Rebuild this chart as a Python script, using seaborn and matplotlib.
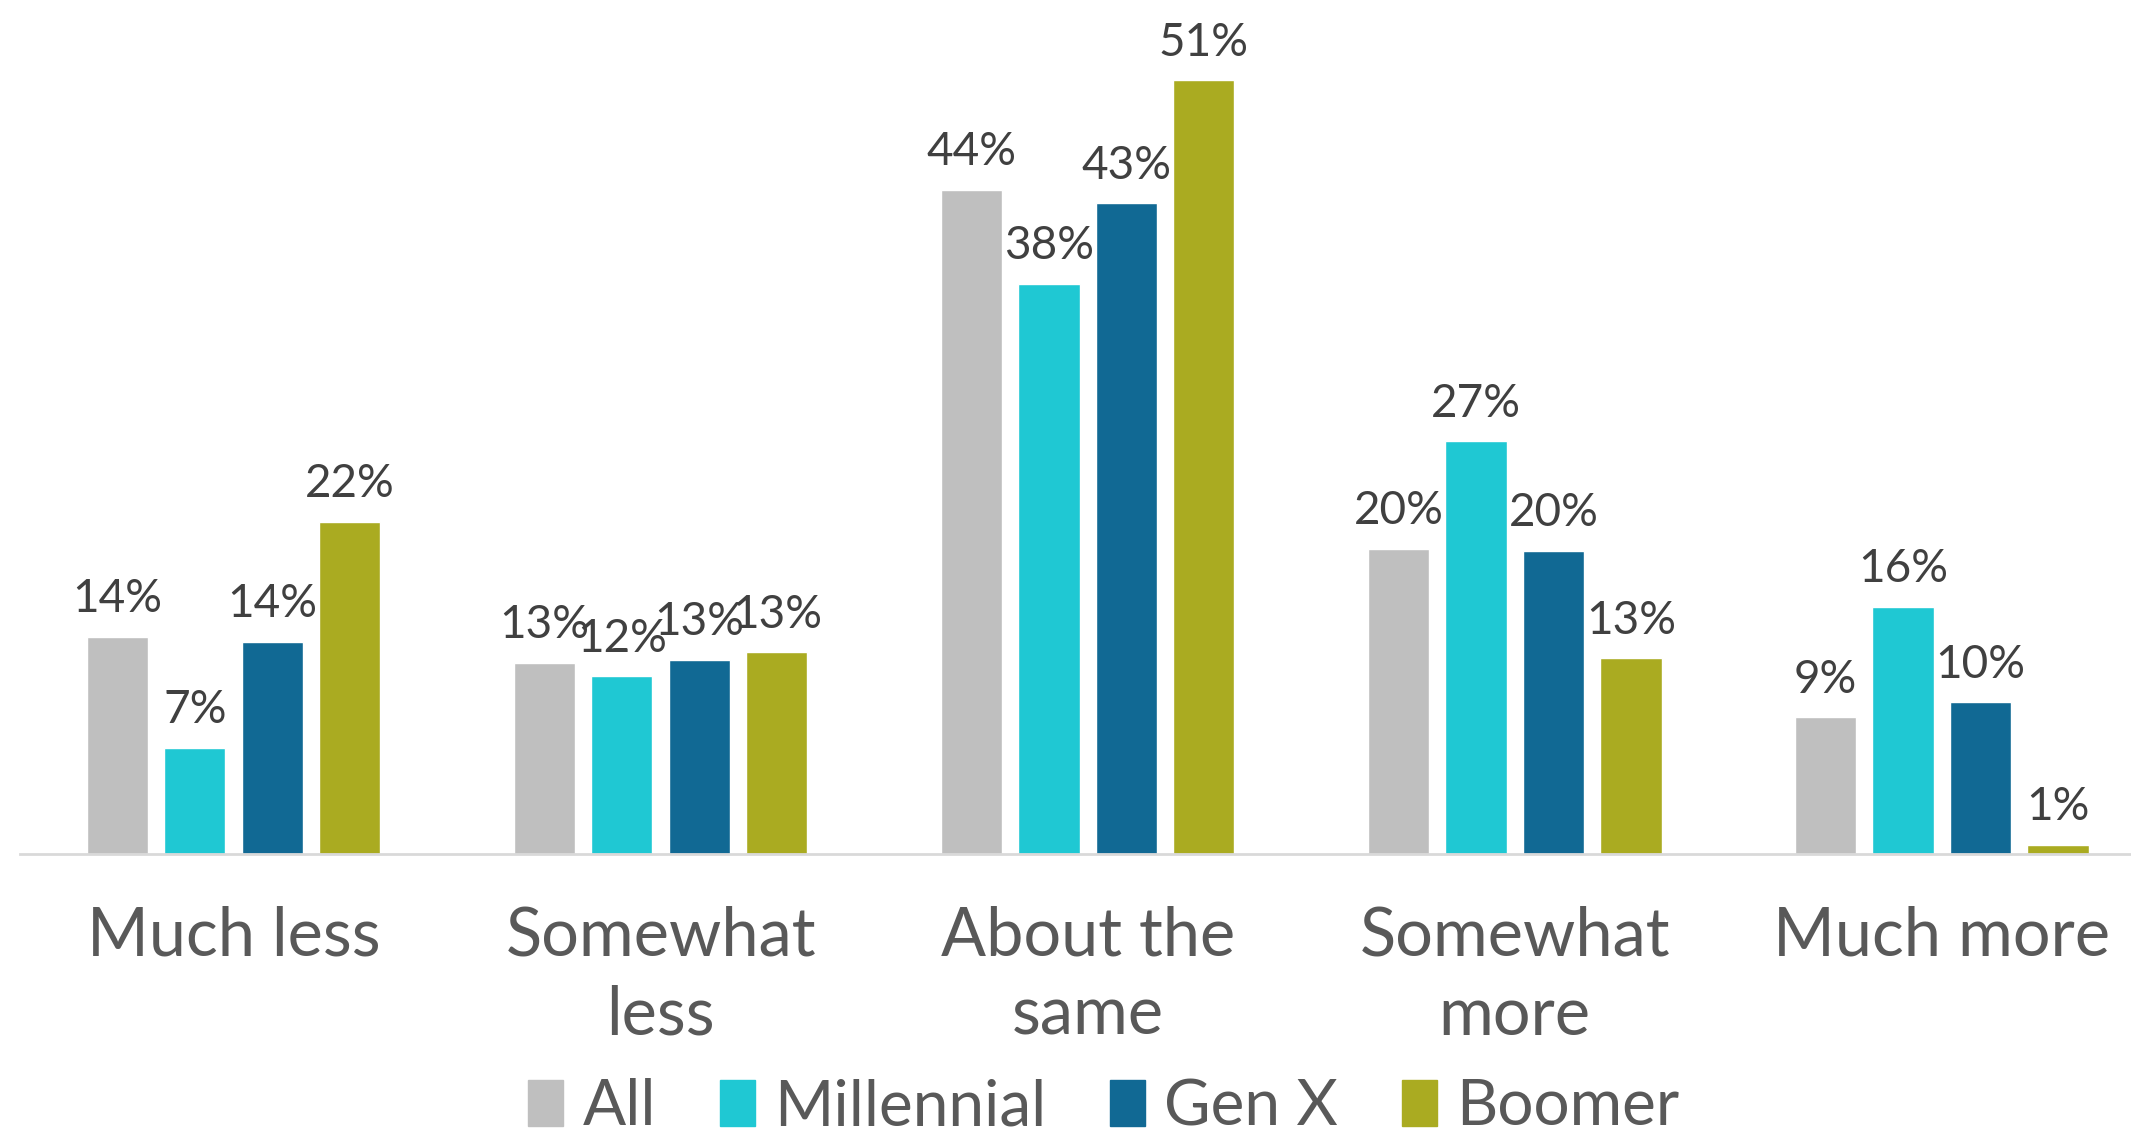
import matplotlib
matplotlib.use("Agg")
import matplotlib.pyplot as plt
import seaborn as sns
import pandas as pd

# Survey results: share of respondents per answer, by generation
categories = ["Much less", "Somewhat\nless", "About the\nsame", "Somewhat\nmore", "Much more"]
groups = ["All", "Millennial", "Gen X", "Boomer"]
all_vals = [14.3, 12.6, 43.8, 20.1, 9.0]
millennial_vals = [7.0, 11.7, 37.6, 27.2, 16.3]
genx_vals = [14.0, 12.8, 42.9, 20.0, 10.0]
boomer_vals = [21.9, 13.3, 51.0, 12.9, 0.6]
colors = ["#BFBFBF", "#1FC8D3", "#116994", "#AAAB21"]

rows = []
for grp, vals in zip(groups, [all_vals, millennial_vals, genx_vals, boomer_vals]):
    for cat, v in zip(categories, vals):
        rows.append({"category": cat, "group": grp, "value": v})
df = pd.DataFrame(rows)

sns.set_theme(style="white")
plt.rcParams["font.family"] = ["Lato", "DejaVu Sans"]

fig = plt.figure(figsize=(21.31, 11.38), dpi=100)
ax = fig.add_axes([0.0094, 0.2496, 1.002, 0.7504])

sns.barplot(data=df, x="category", y="value", hue="group", order=categories,
            hue_order=groups, palette=colors, width=0.7256, gap=0.21,
            saturation=1, errorbar=None, ax=ax, legend=True)

ax.set_ylim(0, 56.3)
ax.set_xlim(-0.5, 4.5)
ax.set_xlabel("")
ax.set_ylabel("")
ax.set_yticks([])

for container in ax.containers:
    labels = [f"{round(b.get_height() + 1e-9):d}%" for b in container]
    ax.bar_label(container, labels=labels, padding=12, fontsize=33,
                 color="#404040")

ax.tick_params(axis="x", length=0, pad=37, labelsize=48, labelcolor="#595959")
for lbl in ax.get_xticklabels():
    lbl.set_linespacing(1.35)

for side in ["top", "right", "left"]:
    ax.spines[side].set_visible(False)
ax.spines["bottom"].set_color("#D9D9D9")
ax.spines["bottom"].set_linewidth(2)

ax.legend_.remove()
handles = [plt.Rectangle((0, 0), 1, 1, color=c) for c in colors]
fig.legend(handles, groups, loc="center", bbox_to_anchor=(0.518, 0.027),
           ncol=4, frameon=False, fontsize=46, labelcolor="#595959",
           handlelength=0.55, handleheight=0.75, handletextpad=0.3,
           columnspacing=1.0, borderpad=0)

fig.savefig("out.png", dpi=100)
